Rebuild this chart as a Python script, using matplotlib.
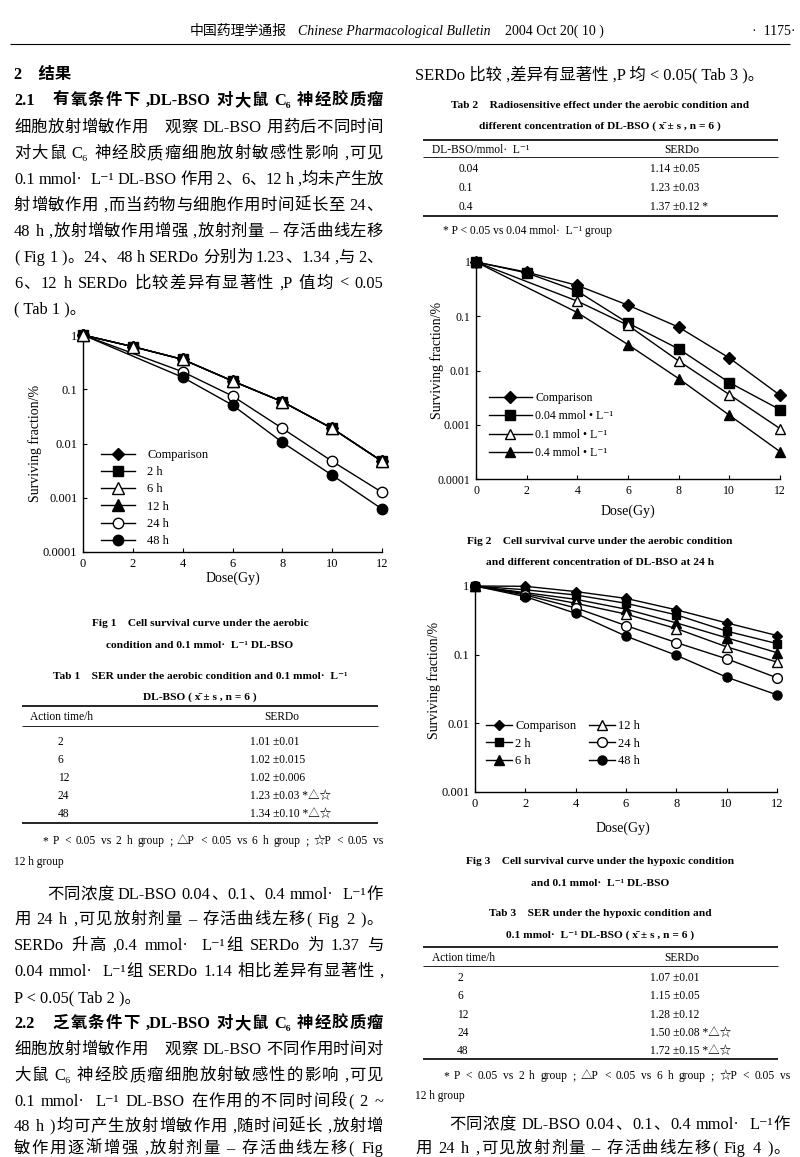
import matplotlib
matplotlib.use('Agg')
import matplotlib.pyplot as plt

# ------------------------------------------------------------------ data
dose = [0, 2, 4, 6, 8, 10, 12]
dose_no2 = [0, 4, 6, 8, 10, 12]
dose_ticks = [0, 2, 4, 6, 8, 10, 12]

# Fig 1 (aerobic, 0.1 mmol/L, different action time)
fig1_labels = ['Comparison', '2 h', '6 h', '12 h', '24 h', '48 h']
fig1_comparison = [1, 0.61, 0.355, 0.142, 0.059, 0.019, 0.0047]
fig1_2h = [1, 0.61, 0.355, 0.142, 0.059, 0.019, 0.0047]
fig1_6h = [1, 0.61, 0.355, 0.142, 0.059, 0.019, 0.0047]
fig1_12h = [1, 0.61, 0.355, 0.142, 0.059, 0.019, 0.0047]
fig1_24h = [1, 0.21, 0.075, 0.019, 0.0047, 0.00126]
fig1_48h = [1, 0.166, 0.051, 0.0105, 0.0026, 0.00062]
fig1_yticks = [0.0001, 0.001, 0.01, 0.1, 1]
fig1_yticklabels = ['0.0001', '0.001', '0.01', '0.1', '1']

# Fig 2 (aerobic, 24 h, different concentration)
fig2_labels = ['Comparison', '0.04 mmol \u2022 L\u207b\u00b9', '0.1 mmol \u2022 L\u207b\u00b9', '0.4 mmol \u2022 L\u207b\u00b9']
fig2_comparison = [1, 0.65, 0.37, 0.16, 0.063, 0.017, 0.0035]
fig2_004 = [1, 0.63, 0.29, 0.075, 0.025, 0.006, 0.0019]
fig2_01 = [1, 0.19, 0.068, 0.015, 0.0036, 0.00085]
fig2_04 = [1, 0.117, 0.030, 0.0071, 0.0015, 0.00032]

# Fig 3 (hypoxic, 0.1 mmol/L, different action time)
fig3_labels = ['Comparison', '2 h', '6 h', '12 h', '24 h', '48 h']
fig3_comparison = [1, 0.99, 0.83, 0.66, 0.45, 0.29, 0.19]
fig3_2h = [1, 0.88, 0.74, 0.56, 0.38, 0.22, 0.145]
fig3_6h = [1, 0.80, 0.64, 0.46, 0.29, 0.176, 0.107]
fig3_12h = [1, 0.77, 0.56, 0.39, 0.24, 0.13, 0.078]
fig3_24h = [1, 0.74, 0.48, 0.265, 0.15, 0.087, 0.046]
fig3_48h = [1, 0.70, 0.40, 0.186, 0.098, 0.047, 0.026]
fig3_yticks = [0.001, 0.01, 0.1, 1]
fig3_yticklabels = ['0.001', '0.01', '0.1', '1']

# Tables
tab1_time = ['2', '6', '12', '24', '48']
tab1_serdo = ['1.01 \u00b10.01', '1.02 \u00b10.015', '1.02 \u00b10.006',
              '1.23 \u00b10.03 *\u25b3\u2606', '1.34 \u00b10.10 *\u25b3\u2606']
tab2_conc = ['0.04', '0.1', '0.4']
tab2_serdo = ['1.14 \u00b10.05', '1.23 \u00b10.03', '1.37 \u00b10.12 *']
tab3_time = ['2', '6', '12', '24', '48']
tab3_serdo = ['1.07 \u00b10.01', '1.15 \u00b10.05', '1.28 \u00b10.12',
              '1.50 \u00b10.08 *\u25b3\u2606', '1.72 \u00b10.15 *\u25b3\u2606']

# ------------------------------------------------------------------ setup
W, H = 800, 1157
FAM = ['Liberation Serif', 'Noto Sans CJK SC', 'DejaVu Sans']
plt.rcParams['font.family'] = FAM

fig = plt.figure(figsize=(W / 100, H / 100), dpi=100)
fig.patch.set_facecolor('white')
bg = fig.add_axes([0, 0, 1, 1], zorder=0)
bg.set_xlim(0, W)
bg.set_ylim(H, 0)
bg.axis('off')
renderer = fig.canvas.get_renderer()


def is_cjk(ch):
    o = ord(ch)
    return (0x2E80 <= o <= 0x9FFF) or (0x3000 <= o <= 0x303F) or (0xFF00 <= o <= 0xFFEF)


def tokenize(s):
    toks, buf = [], ''
    for ch in s:
        if is_cjk(ch) or ch == ' ':
            if buf:
                toks.append(buf)
                buf = ''
            toks.append(ch)
        else:
            buf += ch
    if buf:
        toks.append(buf)
    return toks


def line(x0, yc, s, size=11.8, x1=None, weight='normal', ha='left', style='normal'):
    y = yc + size * 100 / 72 * 0.36
    if x1 is None:
        bg.text(x0, y, s, fontsize=size, family=FAM, weight=weight, ha=ha,
                va='baseline', style=style)
        return
    toks = tokenize(s)
    em = size * 100 / 72
    objs, widths = [], []
    for t in toks:
        if t == ' ':
            objs.append(None)
            widths.append(em * 0.25)
        elif t == '\u3000':
            objs.append(None)
            widths.append(em)
        else:
            o = bg.text(0, y, t, fontsize=size, family=FAM, weight=weight,
                        ha='left', va='baseline', style=style)
            objs.append(o)
            widths.append(o.get_window_extent(renderer).width)
    total = sum(widths)
    gap = (x1 - x0 - total) / max(len(toks) - 1, 1)
    x = x0
    for o, w in zip(objs, widths):
        if o is not None:
            o.set_x(x)
        x += w + gap


def rule(x0, x1, y, lw=1.0):
    bg.plot([x0, x1], [y, y], color='black', lw=lw, solid_capstyle='butt')


# ------------------------------------------------------------------ header
line(190, 30, '\u4e2d\u56fd\u836f\u7406\u5b66\u901a\u62a5', size=10)
line(298, 30, 'Chinese Pharmacological Bulletin', size=10, style='italic')
line(505, 30, '2004 Oct 20( 10 )', size=10)
line(752, 30, '\u00b7  1175\u00b7', size=10)
rule(10, 790, 44, lw=0.8)

# ------------------------------------------------------------------ left column text
LX0, LX1 = 14, 383
RX0, RX1 = 415, 790
left_top = [
    (126, '\u7ec6\u80de\u653e\u5c04\u589e\u654f\u4f5c\u7528\u3000\u89c2\u5bdf DL-BSO \u7528\u836f\u540e\u4e0d\u540c\u65f6\u95f4'),
    (152, '\u5bf9\u5927\u9f20 C\u2086 \u795e\u7ecf\u80f6\u8d28\u7624\u7ec6\u80de\u653e\u5c04\u654f\u611f\u6027\u5f71\u54cd ,\u53ef\u89c1'),
    (178, '0.1 mmol\u00b7  L\u207b\u00b9 DL-BSO \u4f5c\u7528 2\u30016\u300112 h ,\u5747\u672a\u4ea7\u751f\u653e'),
    (204, '\u5c04\u589e\u654f\u4f5c\u7528 ,\u800c\u5f53\u836f\u7269\u4e0e\u7ec6\u80de\u4f5c\u7528\u65f6\u95f4\u5ef6\u957f\u81f3 24\u3001'),
    (230, '48 h ,\u653e\u5c04\u589e\u654f\u4f5c\u7528\u589e\u5f3a ,\u653e\u5c04\u5242\u91cf \u2013 \u5b58\u6d3b\u66f2\u7ebf\u5de6\u79fb'),
    (256, '( Fig 1 )\u300224\u300148 h SERDo \u5206\u522b\u4e3a 1.23\u30011.34 ,\u4e0e 2\u3001'),
    (282, '6\u300112 h SERDo \u6bd4\u8f83\u5dee\u5f02\u6709\u663e\u8457\u6027 ,P \u503c\u5747 < 0.05'),
]
line(LX0, 73, '2\u3000\u7ed3\u679c', weight='bold')
line(LX0, 99, '2.1\u3000\u6709\u6c27\u6761\u4ef6\u4e0b ,DL-BSO \u5bf9\u5927\u9f20 C\u2086 \u795e\u7ecf\u80f6\u8d28\u7624', x1=LX1, weight='bold')
for yc, s in left_top:
    line(LX0, yc, s, x1=LX1)
line(LX0, 307, '( Tab 1 )\u3002')

left_bottom = [
    (918, '\u7528 24 h ,\u53ef\u89c1\u653e\u5c04\u5242\u91cf \u2013 \u5b58\u6d3b\u66f2\u7ebf\u5de6\u79fb( Fig 2 )\u3002'),
    (944, 'SERDo \u5347\u9ad8 ,0.4 mmol\u00b7  L\u207b\u00b9\u7ec4 SERDo \u4e3a 1.37 \u4e0e'),
    (970, '0.04 mmol\u00b7  L\u207b\u00b9\u7ec4 SERDo 1.14 \u76f8\u6bd4\u5dee\u5f02\u6709\u663e\u8457\u6027 ,'),
]
line(LX0 + 33, 893, '\u4e0d\u540c\u6d53\u5ea6 DL-BSO 0.04\u30010.1\u30010.4 mmol\u00b7  L\u207b\u00b9\u4f5c', x1=LX1)
for yc, s in left_bottom:
    line(LX0, yc, s, x1=LX1)
line(LX0, 996, 'P < 0.05( Tab 2 )\u3002')
line(LX0, 1022, '2.2\u3000\u4e4f\u6c27\u6761\u4ef6\u4e0b ,DL-BSO \u5bf9\u5927\u9f20 C\u2086 \u795e\u7ecf\u80f6\u8d28\u7624', x1=LX1, weight='bold')
left_bottom2 = [
    (1048, '\u7ec6\u80de\u653e\u5c04\u589e\u654f\u4f5c\u7528\u3000\u89c2\u5bdf DL-BSO \u4e0d\u540c\u4f5c\u7528\u65f6\u95f4\u5bf9'),
    (1074, '\u5927\u9f20 C\u2086 \u795e\u7ecf\u80f6\u8d28\u7624\u7ec6\u80de\u653e\u5c04\u654f\u611f\u6027\u7684\u5f71\u54cd ,\u53ef\u89c1'),
    (1100, '0.1 mmol\u00b7  L\u207b\u00b9 DL-BSO \u5728\u4f5c\u7528\u7684\u4e0d\u540c\u65f6\u95f4\u6bb5( 2 ~'),
    (1125, '48 h )\u5747\u53ef\u4ea7\u751f\u653e\u5c04\u589e\u654f\u4f5c\u7528 ,\u968f\u65f6\u95f4\u5ef6\u957f ,\u653e\u5c04\u589e'),
    (1147, '\u654f\u4f5c\u7528\u9010\u6e10\u589e\u5f3a ,\u653e\u5c04\u5242\u91cf \u2013 \u5b58\u6d3b\u66f2\u7ebf\u5de6\u79fb( Fig'),
]
for yc, s in left_bottom2:
    line(LX0, yc, s, x1=LX1)

# right column text
line(RX0, 73, 'SERDo \u6bd4\u8f83 ,\u5dee\u5f02\u6709\u663e\u8457\u6027 ,P \u5747 < 0.05( Tab 3 )\u3002')
line(RX0 + 34, 1123, '\u4e0d\u540c\u6d53\u5ea6 DL-BSO 0.04\u30010.1\u30010.4 mmol\u00b7  L\u207b\u00b9\u4f5c', x1=RX1)
line(RX0, 1147, '\u7528 24 h ,\u53ef\u89c1\u653e\u5c04\u5242\u91cf \u2013 \u5b58\u6d3b\u66f2\u7ebf\u5de6\u79fb( Fig 4 )\u3002', x1=RX1)

# ------------------------------------------------------------------ captions
CAP = 8.2
line(200, 622, 'Fig 1    Cell survival curve under the aerobic', size=CAP, weight='bold', ha='center')
line(200, 644, 'condition and 0.1 mmol\u00b7  L\u207b\u00b9 DL-BSO', size=CAP, weight='bold', ha='center')
line(200, 675, 'Tab 1    SER under the aerobic condition and 0.1 mmol\u00b7  L\u207b\u00b9', size=CAP, weight='bold', ha='center')
line(200, 696, 'DL-BSO ( x\u0304 \u00b1 s , n = 6 )', size=CAP, weight='bold', ha='center')
line(600, 104, 'Tab 2    Radiosensitive effect under the aerobic condition and', size=CAP, weight='bold', ha='center')
line(600, 125, 'different concentration of DL-BSO ( x\u0304 \u00b1 s , n = 6 )', size=CAP, weight='bold', ha='center')
line(600, 540, 'Fig 2    Cell survival curve under the aerobic condition', size=CAP, weight='bold', ha='center')
line(600, 561, 'and different concentration of DL-BSO at 24 h', size=CAP, weight='bold', ha='center')
line(600, 860, 'Fig 3    Cell survival curve under the hypoxic condition', size=CAP, weight='bold', ha='center')
line(600, 882, 'and 0.1 mmol\u00b7  L\u207b\u00b9 DL-BSO', size=CAP, weight='bold', ha='center')
line(600, 912, 'Tab 3    SER under the hypoxic condition and', size=CAP, weight='bold', ha='center')
line(600, 934, '0.1 mmol\u00b7  L\u207b\u00b9 DL-BSO ( x\u0304 \u00b1 s , n = 6 )', size=CAP, weight='bold', ha='center')

# ------------------------------------------------------------------ tables
TS = 8.3
# Table 1
rule(22, 378, 706, lw=1.2)
line(30, 716, 'Action time/h', size=TS)
line(282, 716, 'SERDo', size=TS, ha='center')
rule(22, 378, 726, lw=0.6)
for i, (a, b) in enumerate(zip(tab1_time, tab1_serdo)):
    yc = 741 + 18 * i
    line(58, yc, a, size=TS)
    line(250, yc, b, size=TS)
rule(22, 378, 823, lw=1.2)
line(42, 840, '* P < 0.05 vs 2 h group ; \u25b3P < 0.05 vs 6 h group ; \u2606P < 0.05 vs', size=TS, x1=383)
line(14, 861, '12 h group', size=TS)

# Table 2
rule(423, 778, 140, lw=1.2)
line(432, 149, 'DL-BSO/mmol\u00b7  L\u207b\u00b9', size=TS)
line(682, 149, 'SERDo', size=TS, ha='center')
rule(423, 778, 157, lw=0.6)
for i, (a, b) in enumerate(zip(tab2_conc, tab2_serdo)):
    yc = 168 + 19 * i
    line(459, yc, a, size=TS)
    line(650, yc, b, size=TS)
rule(423, 778, 216, lw=1.2)
line(443, 230, '* P < 0.05 vs 0.04 mmol\u00b7  L\u207b\u00b9 group', size=TS)

# Table 3
rule(423, 778, 947, lw=1.2)
line(432, 957, 'Action time/h', size=TS)
line(682, 957, 'SERDo', size=TS, ha='center')
rule(423, 778, 966, lw=0.6)
for i, (a, b) in enumerate(zip(tab3_time, tab3_serdo)):
    yc = 977 + 18.3 * i
    line(457, yc, a, size=TS)
    line(650, yc, b, size=TS)
rule(423, 778, 1059, lw=1.2)
line(443, 1075, '* P < 0.05 vs 2 h group ; \u25b3P < 0.05 vs 6 h group ; \u2606P < 0.05 vs', size=TS, x1=790)
line(415, 1095, '12 h group', size=TS)


# ------------------------------------------------------------------ charts
def make_ax(l, r, t, b, tick_size=9):
    ax = fig.add_axes([l / W, 1 - b / H, (r - l) / W, (b - t) / H], zorder=2)
    ax.set_facecolor('none')
    for s in ('top', 'right'):
        ax.spines[s].set_visible(False)
    for s in ('left', 'bottom'):
        ax.spines[s].set_linewidth(1.0)
    ax.set_yscale('log')
    ax.tick_params(which='both', direction='in', length=3, width=0.8,
                   labelsize=tick_size, pad=4)
    ax.tick_params(which='minor', length=0)
    ax.set_xlim(0, 12)
    ax.set_xticks(dose_ticks)
    return ax


def plot(ax, x, y, marker, filled, label, ms=7, z=3):
    ax.plot(x, y, color='black', lw=1.0, marker=marker, ms=ms,
            mfc='black' if filled else 'white', mec='black', mew=1.0,
            label=label, clip_on=False, zorder=z)


# Fig 1
ax1 = make_ax(83, 382, 335, 552)
ax1.set_ylim(0.0001, 1)
ax1.set_yticks(fig1_yticks, fig1_yticklabels)
plot(ax1, dose, fig1_comparison, 'D', True, fig1_labels[0], ms=6)
plot(ax1, dose, fig1_2h, 's', True, fig1_labels[1], ms=6.5)
plot(ax1, dose, fig1_6h, '^', False, fig1_labels[2], ms=8, z=5)
plot(ax1, dose, fig1_12h, '^', True, fig1_labels[3], ms=8, z=4)
plot(ax1, dose_no2, fig1_24h, 'o', False, fig1_labels[4], ms=7.5)
plot(ax1, dose_no2, fig1_48h, 'o', True, fig1_labels[5], ms=7.5)
h, lab = ax1.get_legend_handles_labels()
ax1.legend(h, lab, loc='upper left', bbox_to_anchor=(101 / W, 1 - 449 / H),
           bbox_transform=fig.transFigure, frameon=False, fontsize=9,
           handlelength=2.7, handletextpad=1.0, labelspacing=0.42,
           borderpad=0, borderaxespad=0)
line(233, 577, 'Dose(Gy)', size=10, ha='center')
bg.text(35, 443, 'Surviving fraction/%', rotation=90, fontsize=10,
        ha='center', va='center', family=FAM)

# Fig 2
ax2 = make_ax(476, 780, 262, 479, tick_size=8.5)
ax2.set_ylim(0.0001, 1)
ax2.set_yticks(fig1_yticks, fig1_yticklabels)
plot(ax2, dose, fig2_comparison, 'D', True, fig2_labels[0], ms=6.5)
plot(ax2, dose, fig2_004, 's', True, fig2_labels[1], ms=7)
plot(ax2, dose_no2, fig2_01, '^', False, fig2_labels[2], ms=7.5)
plot(ax2, dose_no2, fig2_04, '^', True, fig2_labels[3], ms=7.5)
h, lab = ax2.get_legend_handles_labels()
ax2.legend(h, lab, loc='upper left', bbox_to_anchor=(489 / W, 1 - 392 / H),
           bbox_transform=fig.transFigure, frameon=False, fontsize=8.5,
           handlelength=3.6, handletextpad=0.3, labelspacing=0.55,
           borderpad=0, borderaxespad=0)
line(628, 510, 'Dose(Gy)', size=10, ha='center')
bg.text(437, 360, 'Surviving fraction/%', rotation=90, fontsize=10,
        ha='center', va='center', family=FAM)

# Fig 3
ax3 = make_ax(475, 777, 586, 792)
ax3.set_ylim(0.001, 1)
ax3.set_yticks(fig3_yticks, fig3_yticklabels)
plot(ax3, dose, fig3_comparison, 'D', True, fig3_labels[0], ms=5.5)
plot(ax3, dose, fig3_2h, 's', True, fig3_labels[1], ms=6)
plot(ax3, dose, fig3_6h, '^', True, fig3_labels[2], ms=6.5)
plot(ax3, dose, fig3_12h, '^', False, fig3_labels[3], ms=7)
plot(ax3, dose, fig3_24h, 'o', False, fig3_labels[4], ms=7)
plot(ax3, dose, fig3_48h, 'o', True, fig3_labels[5], ms=6.5)
h, lab = ax3.get_legend_handles_labels()
ax3.legend(h, lab, loc='upper left', bbox_to_anchor=(486 / W, 1 - 720 / H),
           bbox_transform=fig.transFigure, frameon=False, fontsize=9,
           ncol=2, handlelength=2.1, handletextpad=0.25, labelspacing=0.45,
           columnspacing=1.0, borderpad=0, borderaxespad=0)
line(623, 827, 'Dose(Gy)', size=10, ha='center')
bg.text(434, 680, 'Surviving fraction/%', rotation=90, fontsize=10,
        ha='center', va='center', family=FAM)

fig.savefig('out.png', dpi=100)
